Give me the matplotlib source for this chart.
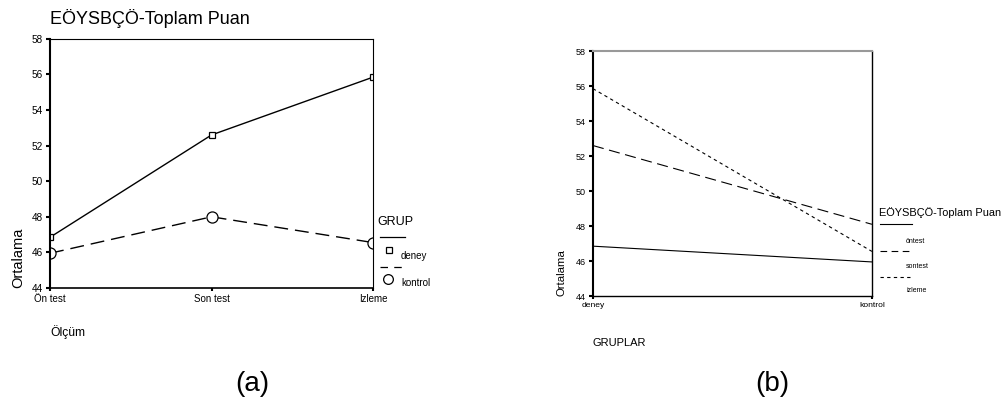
import matplotlib.pyplot as plt
from matplotlib.lines import Line2D

plt.rcParams['font.family'] = ['Liberation Sans', 'DejaVu Sans']

# data
olcum = ['Ön test', 'Son test', 'Izleme']
deney = [46.85, 52.6, 55.85]
kontrol = [45.95, 48.0, 46.55]

gruplar = ['deney', 'kontrol']
ontest = [46.85, 45.95]
sontest = [52.6, 48.1]
izleme = [55.85, 46.55]

yticks = [44, 46, 48, 50, 52, 54, 56, 58]
title = 'EÖYSBÇÖ-Toplam Puan'

fig = plt.figure(figsize=(10.05, 4.05), dpi=100)


def fx(px):
    return px / 1005


def fy(py):
    return 1 - py / 405


# ---- (a)
ax1 = fig.add_axes([0.0498, 0.289, 0.3214, 0.615])
x1 = range(len(olcum))
ax1.plot(x1, deney, color='black', lw=1, marker='s', ms=5, mfc='white', mec='black', mew=0.9)
ax1.plot(x1, kontrol, color='black', lw=1, ls=(0, (10, 5)), marker='o', ms=8, mfc='white', mec='black', mew=0.9)
ax1.set_xlim(0, 2)
ax1.set_ylim(44, 58)
ax1.set_xticks(list(x1))
ax1.set_xticklabels(olcum, fontsize=7)
ax1.set_yticks(yticks)
ax1.tick_params(axis='y', labelsize=7.2, length=3, width=1.5, pad=2)
ax1.tick_params(axis='x', length=2, width=1.5, pad=2)
for s in ax1.spines.values():
    s.set_linewidth(0.8)
ax1.spines['left'].set_linewidth(1.5)
ax1.spines['bottom'].set_linewidth(1.2)
ax1.set_ylabel('Ortalama', fontsize=10.5, loc='bottom', labelpad=5)
fig.text(fx(50), fy(18), title, fontsize=13, va='center', ha='left')
fig.text(fx(50), fy(332), 'Ölçüm', fontsize=8.7, va='center', ha='left')
fig.text(fx(252), fy(384), '(a)', fontsize=20, va='center', ha='center')

# legend (a)
fig.text(fx(377), fy(222), 'GRUP', fontsize=9, va='center', ha='left')
fig.add_artist(Line2D([fx(380), fx(405)], [fy(237), fy(237)], color='black', lw=0.9))
fig.add_artist(Line2D([fx(389)], [fy(250)], marker='s', ms=5, mfc='white', mec='black', mew=0.9))
fig.text(fx(401), fy(256), 'deney', fontsize=7, va='center', ha='left')
fig.add_artist(Line2D([fx(380), fx(405)], [fy(267), fy(267)], color='black', lw=0.9, ls=(0, (6, 5))))
fig.add_artist(Line2D([fx(388)], [fy(279)], marker='o', ms=7, mfc='white', mec='black', mew=0.9))
fig.text(fx(401), fy(283), 'kontrol', fontsize=7, va='center', ha='left')

# ---- (b)
ax2 = fig.add_axes([0.590, 0.269, 0.2776, 0.605])
x2 = range(len(gruplar))
ax2.plot(x2, ontest, color='black', lw=0.8)
ax2.plot(x2, sontest, color='black', lw=0.8, ls=(0, (10, 5)))
ax2.plot(x2, izleme, color='black', lw=0.8, ls=(0, (3, 3)))
ax2.set_xlim(0, 1)
ax2.set_ylim(44, 58)
ax2.set_xticks(list(x2))
ax2.set_xticklabels(gruplar, fontsize=6.1)
ax2.set_yticks(yticks)
ax2.tick_params(axis='y', labelsize=6.5, length=3, width=1.5, pad=2)
ax2.tick_params(axis='x', length=2, width=1.5, pad=2)
for s in ax2.spines.values():
    s.set_linewidth(1.0)
ax2.spines['left'].set_linewidth(1.5)
ax2.spines['top'].set_color('#999999')
ax2.spines['top'].set_linewidth(1.5)
ax2.set_ylabel('Ortalama', fontsize=8.2, loc='bottom', labelpad=7)
fig.text(fx(592), fy(343), 'GRUPLAR', fontsize=8, va='center', ha='left')
fig.text(fx(772), fy(384), '(b)', fontsize=20, va='center', ha='center')

# legend (b)
fig.text(fx(879), fy(213), title, fontsize=7.9, va='center', ha='left')
fig.add_artist(Line2D([fx(880), fx(912)], [fy(224), fy(224)], color='black', lw=0.8))
fig.text(fx(906), fy(241), 'öntest', fontsize=5, va='center', ha='left')
fig.add_artist(Line2D([fx(880), fx(912)], [fy(251), fy(251)], color='black', lw=0.8, ls=(0, (6, 4))))
fig.text(fx(906), fy(266), 'sontest', fontsize=5, va='center', ha='left')
fig.add_artist(Line2D([fx(880), fx(912)], [fy(277), fy(277)], color='black', lw=0.8, ls=(0, (3, 3))))
fig.text(fx(906), fy(290), 'izleme', fontsize=5, va='center', ha='left')

fig.savefig('out.png', dpi=100)
